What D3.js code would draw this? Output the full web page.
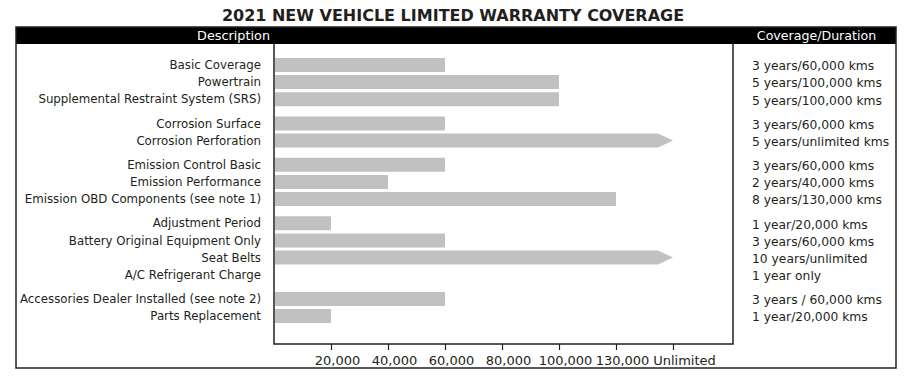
<!DOCTYPE html>
<html>
<head>
<meta charset="utf-8">
<script src="https://cdn.jsdelivr.net/npm/d3@7"></script>
<style>
  body { margin: 0; background: #fff; }
  text { font-family: "DejaVu Sans", sans-serif; fill: #231f20; }
</style>
</head>
<body>
<svg id="chart" width="913" height="385"></svg>
<script>
const descriptions = [
  "Basic Coverage",
  "Powertrain",
  "Supplemental Restraint System (SRS)",
  "Corrosion Surface",
  "Corrosion Perforation",
  "Emission Control Basic",
  "Emission Performance",
  "Emission OBD Components (see note 1)",
  "Adjustment Period",
  "Battery Original Equipment Only",
  "Seat Belts",
  "A/C Refrigerant Charge",
  "Accessories Dealer Installed (see note 2)",
  "Parts Replacement",
];
const groups = [0, 0, 0, 1, 1, 2, 2, 2, 3, 3, 3, 3, 4, 4];
const kms = [60000, 100000, 100000, 60000, "Unlimited", 60000, 40000, 130000,
  20000, 60000, "Unlimited", null, 60000, 20000];
const durations = [
  "3 years/60,000 kms",
  "5 years/100,000 kms",
  "5 years/100,000 kms",
  "3 years/60,000 kms",
  "5 years/unlimited kms",
  "3 years/60,000 kms",
  "2 years/40,000 kms",
  "8 years/130,000 kms",
  "1 year/20,000 kms",
  "3 years/60,000 kms",
  "10 years/unlimited",
  "1 year only",
  "3 years / 60,000 kms",
  "1 year/20,000 kms",
];
const tickValues = [20000, 40000, 60000, 80000, 100000, 130000, "Unlimited"];
const tickLabels = ["20,000", "40,000", "60,000", "80,000", "100,000", "130,000", "Unlimited"];

const box = { left: 16, right: 896, top: 27, bottom: 368 },
  headerH = 17,
  plot = { left: 274, right: 733, bottom: 344 },
  barH = 14,
  arrowTip = 15;

const svg = d3.select("#chart");

// evenly spaced categories, so a point scale
const x = d3.scalePoint()
  .domain([0].concat(tickValues))
  .range([plot.left, 673]);

// rows with a small gap between groups
const slot = (i) => i + groups[i] * 0.42;
const y = d3.scaleLinear().domain([0, 1]).range([65, 82.1]);

svg.append("text")
  .attr("x", 453)
  .attr("y", 21)
  .attr("text-anchor", "middle")
  .style("font-size", "16px")
  .style("font-weight", "bold")
  .text("2021 NEW VEHICLE LIMITED WARRANTY COVERAGE");

svg.append("rect")
  .attr("x", box.left)
  .attr("y", box.top)
  .attr("width", box.right - box.left)
  .attr("height", headerH)
  .attr("fill", "#000");

svg.append("text")
  .attr("x", 270)
  .attr("y", box.top + 12.5)
  .attr("text-anchor", "end")
  .style("font-size", "12.8px")
  .style("fill", "#fff")
  .text("Description");

svg.append("text")
  .attr("x", 816.5)
  .attr("y", box.top + 12.5)
  .attr("text-anchor", "middle")
  .style("font-size", "12.6px")
  .style("fill", "#fff")
  .text("Coverage/Duration");

svg.append("rect")
  .attr("x", box.left)
  .attr("y", box.top)
  .attr("width", box.right - box.left)
  .attr("height", box.bottom - box.top)
  .attr("fill", "none")
  .attr("stroke", "#231f20")
  .attr("stroke-width", 1.5);

svg.append("path")
  .attr("d", `M${plot.left},${box.top + headerH}V${plot.bottom}H${plot.right}V${box.top + headerH}`)
  .attr("fill", "none")
  .attr("stroke", "#231f20")
  .attr("stroke-width", 1.5);

const rows = descriptions.map((d, i) => ({
  name: d, kms: kms[i], duration: durations[i], y: y(slot(i)),
}));

svg.append("g")
  .selectAll("path")
  .data(rows.filter((d) => d.kms != null))
  .join("path")
  .attr("fill", "#c1c1c1")
  .attr("d", (d) => {
    const x0 = plot.left + 1,
      x1 = x(d.kms),
      t = d.y - barH / 2,
      b = d.y + barH / 2;
    if (d.kms === "Unlimited") {
      return `M${x0},${t}H${x1 - arrowTip}L${x1},${d.y}L${x1 - arrowTip},${b}H${x0}Z`;
    }
    return `M${x0},${t}H${x1}V${b}H${x0}Z`;
  });

svg.append("g")
  .selectAll("text")
  .data(rows)
  .join("text")
  .attr("x", 261)
  .attr("y", (d) => d.y)
  .attr("dy", "0.35em")
  .attr("text-anchor", "end")
  .style("font-size", "11.8px")
  .text((d) => d.name);

svg.append("g")
  .selectAll("text")
  .data(rows)
  .join("text")
  .attr("x", 752)
  .attr("y", (d) => d.y + 1)
  .attr("dy", "0.35em")
  .style("font-size", "12.3px")
  .text((d) => d.duration);

const axis = svg.append("g")
  .attr("transform", `translate(0,${plot.bottom})`)
  .call(
    d3.axisBottom(x)
      .tickValues(tickValues)
      .tickFormat((d, i) => tickLabels[i])
      .tickSize(6)
      .tickSizeOuter(0)
  );
axis.select(".domain").remove();
axis.selectAll(".tick line").attr("stroke", "#231f20").attr("stroke-width", 1.2);
// labels sit a little right of their ticks in the original
axis.selectAll(".tick text")
  .attr("y", 12)
  .attr("dx", (d) => (d === "Unlimited" ? 11 : 6))
  .style("font-family", "\"DejaVu Sans\", sans-serif")
  .style("font-size", "13px")
  .style("fill", "#231f20");
</script>
</body>
</html>
